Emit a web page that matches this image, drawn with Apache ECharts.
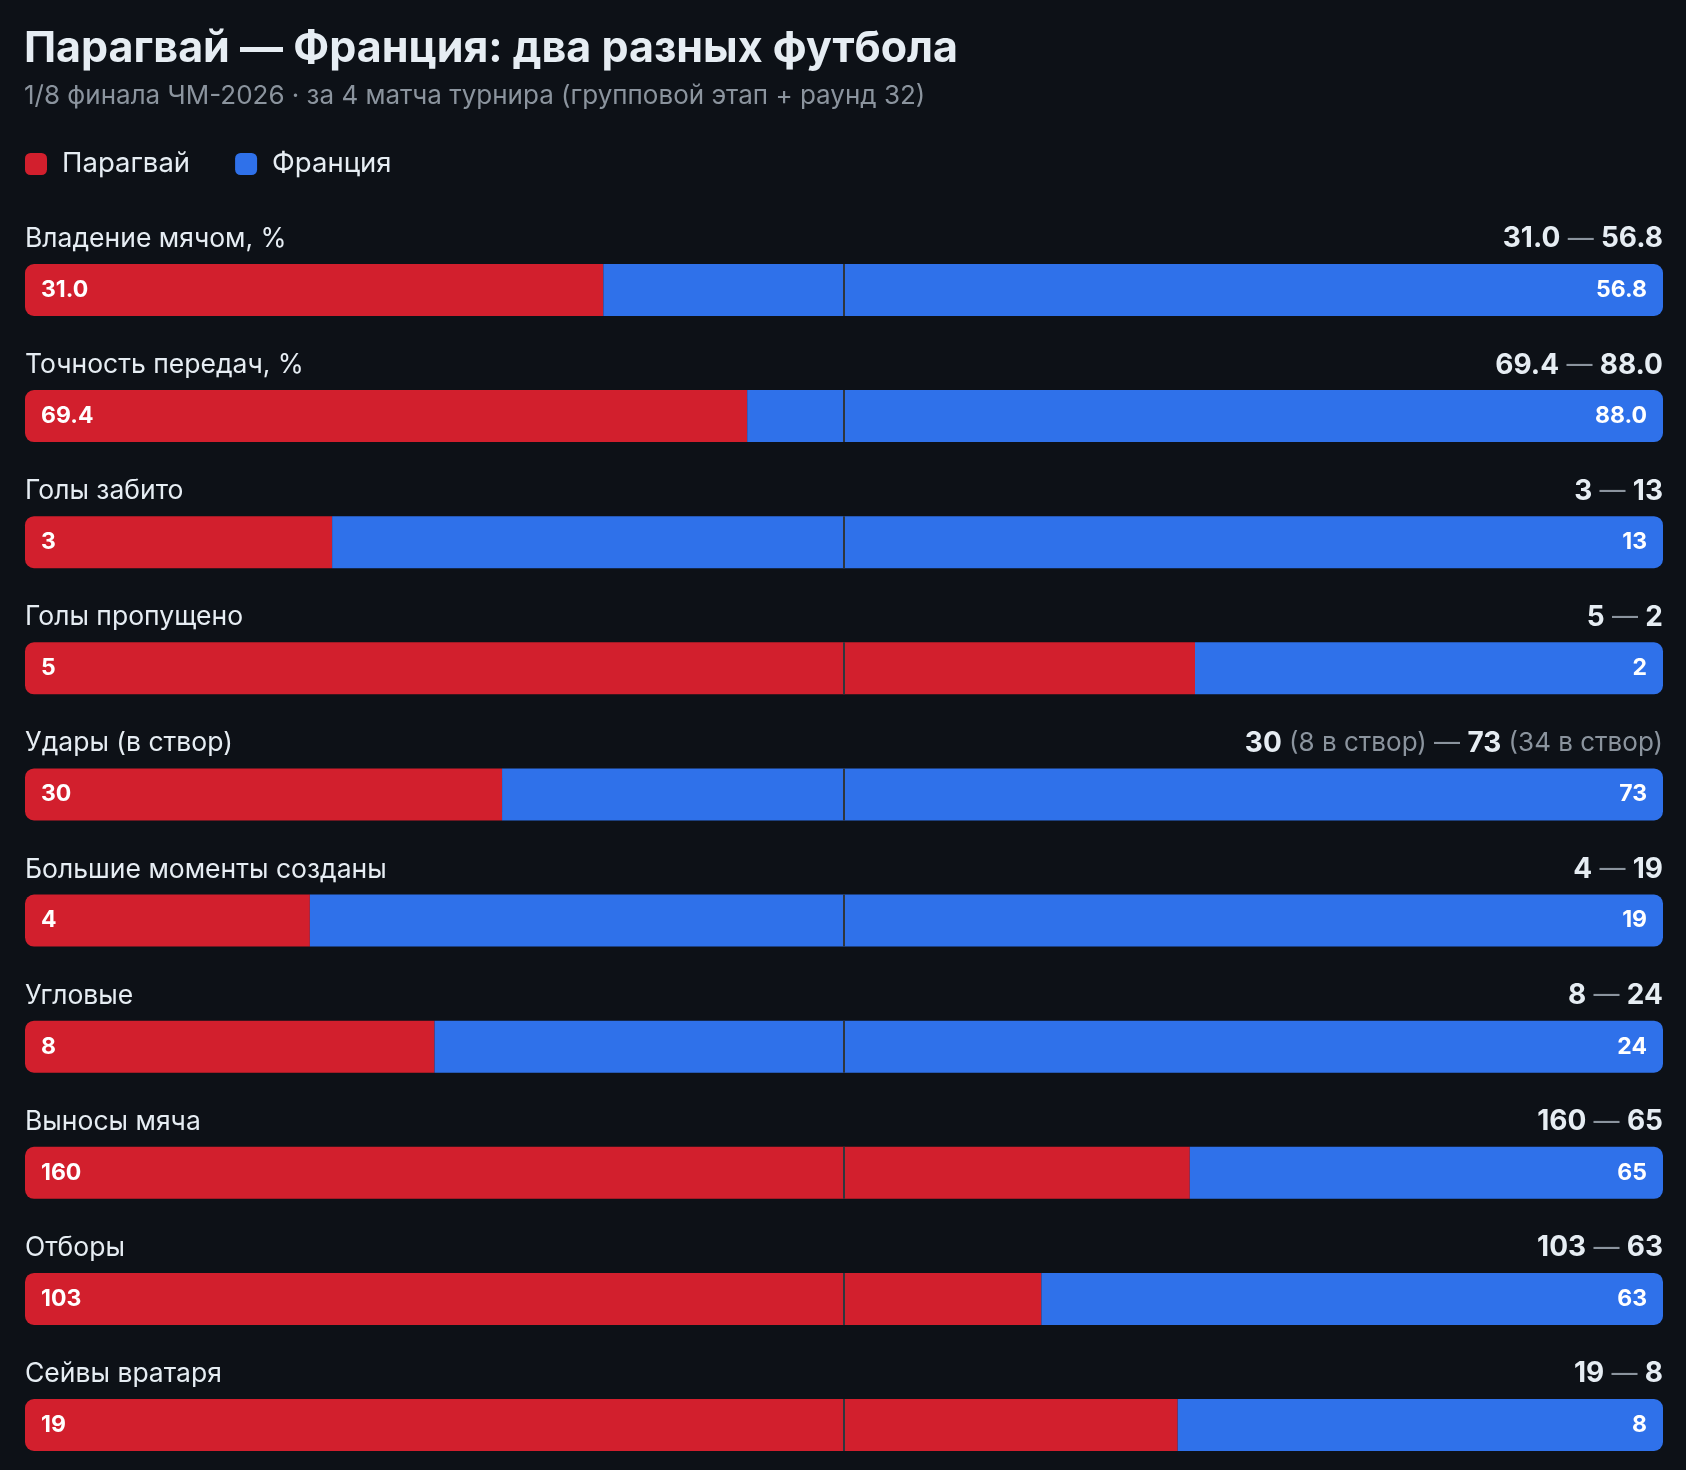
<!DOCTYPE html>
<html lang="ru">
<head>
<meta charset="utf-8">
<title>Парагвай — Франция</title>
<script src="https://cdn.jsdelivr.net/npm/echarts@6/dist/echarts.min.js"></script>
<style>
  html, body { margin: 0; padding: 0; background: #0d1117; }
  #chart { width: 1686px; height: 1470px; }
</style>
</head>
<body>
<div id="chart"></div>
<script>
// данные
const metrics = ['Владение мячом, %', 'Точность передач, %', 'Голы забито', 'Голы пропущено', 'Удары (в створ)',
  'Большие моменты созданы', 'Угловые', 'Выносы мяча', 'Отборы', 'Сейвы вратаря'];
const paraguay = [31.0, 69.4, 3, 5, 30, 4, 8, 160, 103, 19];
const france = [56.8, 88.0, 13, 2, 73, 19, 24, 65, 63, 8];
const decimals = [1, 1, 0, 0, 0, 0, 0, 0, 0, 0];
const paraguayNote = ['', '', '', '', '8 в створ', '', '', '', '', ''];
const franceNote = ['', '', '', '', '34 в створ', '', '', '', '', ''];

const FONT = 'Inter, "Noto Sans", sans-serif';
const RED = '#d21f2d';
const BLUE = '#2f71ea';
const TEXT = '#e6edf3';
const MUTED = '#8b949e';
const BAR_H = 52;

const fmt = (v, i) => v.toFixed(decimals[i]);
const shareP = paraguay.map((p, i) => p / (p + france[i]));
const shareF = france.map((f, i) => f / (paraguay[i] + f));

const summary = i => {
  let s = `{b|${fmt(paraguay[i], i)}}`;
  if (paraguayNote[i]) s += `{n| (${paraguayNote[i]})}`;
  s += `{d| — }{b|${fmt(france[i], i)}}`;
  if (franceNote[i]) s += `{n| (${franceNote[i]})}`;
  return s;
};

const chart = echarts.init(document.getElementById('chart'));

const option = {
  backgroundColor: '#0d1117',
  animation: false,
  title: {
    left: 24,
    top: 26,
    padding: 0,
    text: 'Парагвай — Франция: два разных футбола',
    subtext: '1/8 финала ЧМ-2026 · за 4 матча турнира (групповой этап + раунд 32)',
    itemGap: 11,
    textStyle: { color: TEXT, fontFamily: FONT, fontSize: 43, fontWeight: 'bold', lineHeight: 46 },
    subtextStyle: { color: MUTED, fontFamily: FONT, fontSize: 26, lineHeight: 26 }
  },
  legend: {
    left: 25,
    top: 150,
    icon: 'roundRect',
    itemWidth: 22,
    itemHeight: 22,
    itemGap: 45,
    padding: 0,
    textStyle: { color: TEXT, fontFamily: FONT, fontSize: 27.5, padding: [0, 0, 0, 10] },
    data: ['Парагвай', 'Франция']
  },
  // первая строка по центру 290px, последняя 1425px
  grid: { left: 25, right: 23, top: 290, bottom: 45 },
  xAxis: { type: 'value', min: 0, max: 1, show: false },
  yAxis: { type: 'category', data: metrics, inverse: true, boundaryGap: false, show: false },
  series: [
    {
      name: 'Парагвай',
      type: 'bar',
      stack: 'total',
      barWidth: BAR_H,
      clip: false,
      itemStyle: { color: RED, borderRadius: [9, 0, 0, 9] },
      label: {
        show: true,
        position: 'insideLeft',
        distance: 16,
        color: '#ffffff',
        fontFamily: FONT,
        fontSize: 23,
        fontWeight: 'bold',
        formatter: p => fmt(paraguay[p.dataIndex], p.dataIndex)
      },
      data: shareP
    },
    {
      name: 'Франция',
      type: 'bar',
      stack: 'total',
      barWidth: BAR_H,
      clip: false,
      itemStyle: { color: BLUE, borderRadius: [0, 9, 9, 0] },
      label: {
        show: true,
        position: 'insideRight',
        distance: 16,
        color: '#ffffff',
        fontFamily: FONT,
        fontSize: 23,
        fontWeight: 'bold',
        formatter: p => fmt(france[p.dataIndex], p.dataIndex)
      },
      data: shareF
    },
    {
      // подписи строк, итог справа и центральная линия
      type: 'custom',
      clip: false,
      silent: true,
      z: 10,
      data: metrics.map((m, i) => [0, i]),
      renderItem: (params, api) => {
        const i = api.value(1);
        const left = api.coord([0, i]);
        const right = api.coord([1, i]);
        const mid = api.coord([0.5, i]);
        const ty = left[1] - 51;
        return {
          type: 'group',
          children: [
            {
              type: 'text',
              x: left[0],
              y: ty,
              style: {
                text: metrics[i], fill: TEXT, fontFamily: FONT, fontSize: 26.5,
                align: 'left', verticalAlign: 'middle'
              }
            },
            {
              type: 'text',
              x: right[0],
              y: ty,
              style: {
                text: summary(i),
                align: 'right',
                verticalAlign: 'middle',
                rich: {
                  b: { fill: TEXT, fontFamily: FONT, fontSize: 28, fontWeight: 'bold' },
                  d: { fill: MUTED, fontFamily: FONT, fontSize: 26 },
                  n: { fill: MUTED, fontFamily: FONT, fontSize: 26 }
                }
              }
            },
            {
              type: 'line',
              shape: { x1: mid[0], y1: mid[1] - BAR_H / 2, x2: mid[0], y2: mid[1] + BAR_H / 2 },
              style: { stroke: '#30363d', lineWidth: 2 }
            }
          ]
        };
      }
    }
  ]
};

chart.setOption(option);
</script>
</body>
</html>
